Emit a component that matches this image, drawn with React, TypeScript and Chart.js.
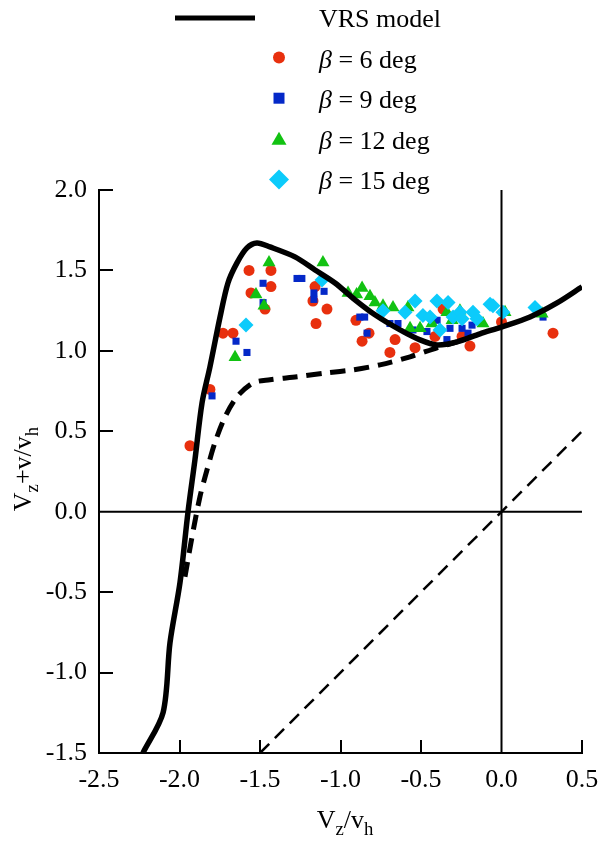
import React, { useEffect, useRef } from "react";
import { Chart, registerables } from "chart.js";

Chart.register(...registerables);

// ---------- data ----------
const xTicks = [-2.5, -2.0, -1.5, -1.0, -0.5, 0.0, 0.5];
const yTicks = [-1.5, -1.0, -0.5, 0.0, 0.5, 1.0, 1.5, 2.0];

const modelLabel = "VRS model";
const betaValues = [6, 9, 12, 15];
const seriesColors = ["#e8300e", "#0428c8", "#12c212", "#0ccbfb"];

// VRS model, solid branch
const vrsSolid: [number, number][] = [
  [-2.227, -1.5], [-2.102, -1.249], [-2.059, -0.814], [-1.997, -0.441],
  [-1.947, 0.0], [-1.904, 0.323], [-1.86, 0.677], [-1.811, 0.9],
  [-1.748, 1.211], [-1.699, 1.422], [-1.643, 1.547], [-1.581, 1.64],
  [-1.519, 1.671], [-1.438, 1.646], [-1.283, 1.584], [-1.158, 1.503],
  [-1.034, 1.422], [-0.91, 1.317], [-0.786, 1.224], [-0.63, 1.13],
  [-0.506, 1.068], [-0.401, 1.037], [-0.276, 1.056], [-0.134, 1.106],
  [0.003, 1.149], [0.177, 1.211], [0.345, 1.298], [0.5, 1.398],
];

// VRS model, dashed branch
const vrsDashed: [number, number][] = [
  [-1.966, -0.404], [-1.922, -0.155], [-1.873, 0.093], [-1.829, 0.261],
  [-1.78, 0.429], [-1.717, 0.59], [-1.643, 0.714], [-1.543, 0.801],
  [-1.438, 0.82], [-1.27, 0.839], [-1.084, 0.863], [-0.922, 0.882],
  [-0.755, 0.913], [-0.568, 0.963], [-0.401, 1.019], [-0.276, 1.056],
];

// thin dashed reference line
const idealLine: [number, number][] = [[-1.5, -1.5], [0.5, 0.5]];

const beta6: [number, number][] = [
  [-1.935, 0.41], [-1.811, 0.76], [-1.73, 1.11], [-1.668, 1.11],
  [-1.568, 1.5], [-1.556, 1.36], [-1.469, 1.26], [-1.432, 1.5],
  [-1.432, 1.4], [-1.158, 1.4], [-1.171, 1.31], [-1.084, 1.26],
  [-1.152, 1.17], [-0.904, 1.19], [-0.823, 1.11], [-0.866, 1.06],
  [-0.693, 0.99], [-0.661, 1.07], [-0.537, 1.02], [-0.413, 1.09],
  [-0.363, 1.26], [-0.245, 1.09], [-0.196, 1.03], [0.0, 1.18], [0.32, 1.11],
];

const beta9: [number, number][] = [
  [-1.798, 0.72], [-1.649, 1.06], [-1.581, 0.99], [-1.481, 1.42],
  [-1.481, 1.3], [-1.27, 1.45], [-1.24, 1.45], [-1.165, 1.36],
  [-1.165, 1.32], [-1.102, 1.37], [-0.88, 1.21], [-0.85, 1.21],
  [-0.835, 1.11], [-0.693, 1.17], [-0.643, 1.17], [-0.55, 1.13],
  [-0.463, 1.12], [-0.4, 1.19], [-0.339, 1.07], [-0.32, 1.14],
  [-0.245, 1.14], [-0.208, 1.11], [-0.183, 1.16], [0.258, 1.21],
];

const beta12: [number, number][] = [
  [-1.655, 0.96], [-1.525, 1.35], [-1.475, 1.28], [-1.444, 1.55],
  [-1.109, 1.55], [-0.953, 1.36], [-0.9, 1.35], [-0.866, 1.39],
  [-0.817, 1.34], [-0.786, 1.3], [-0.736, 1.28], [-0.674, 1.27],
  [-0.581, 1.27], [-0.568, 1.14], [-0.506, 1.14], [-0.432, 1.17],
  [-0.339, 1.24], [-0.307, 1.19], [-0.258, 1.25], [-0.115, 1.17],
  [0.022, 1.24], [0.252, 1.23],
];

const beta15: [number, number][] = [
  [-1.587, 1.16], [-1.115, 1.44], [-0.736, 1.25], [-0.599, 1.24],
  [-0.537, 1.31], [-0.488, 1.22], [-0.444, 1.21], [-0.401, 1.31],
  [-0.382, 1.13], [-0.332, 1.3], [-0.301, 1.21], [-0.258, 1.24],
  [-0.245, 1.2], [-0.177, 1.24], [-0.152, 1.2], [-0.071, 1.29],
  [-0.053, 1.28], [0.009, 1.24], [0.208, 1.27],
];

// ---------- styling ----------
const SERIF = "'Liberation Serif', 'Times New Roman', 'DejaVu Serif', serif";
const toPts = (arr: [number, number][]) => arr.map(([x, y]) => ({ x, y }));

function drawMarker(ctx: CanvasRenderingContext2D, kind: number, cx: number, cy: number) {
  ctx.fillStyle = seriesColors[kind];
  ctx.beginPath();
  if (kind === 0) {
    ctx.arc(cx, cy, 6, 0, Math.PI * 2);
  } else if (kind === 1) {
    ctx.rect(cx - 5.5, cy - 5.5, 11, 11);
  } else if (kind === 2) {
    ctx.moveTo(cx, cy - 7);
    ctx.lineTo(cx + 7.5, cy + 6);
    ctx.lineTo(cx - 7.5, cy + 6);
    ctx.closePath();
  } else {
    ctx.moveTo(cx, cy - 10);
    ctx.lineTo(cx + 10, cy);
    ctx.lineTo(cx, cy + 10);
    ctx.lineTo(cx - 10, cy);
    ctx.closePath();
  }
  ctx.fill();
}

function drawSubText(
  ctx: CanvasRenderingContext2D,
  parts: { t: string; sub?: boolean }[],
  x: number,
  y: number,
  size: number
) {
  let cx = x;
  for (const p of parts) {
    const fs = p.sub ? size * 0.72 : size;
    ctx.font = `${fs}px ${SERIF}`;
    ctx.fillText(p.t, cx, p.sub ? y + size * 0.28 : y);
    cx += ctx.measureText(p.t).width;
  }
}

function measureSubText(ctx: CanvasRenderingContext2D, parts: { t: string; sub?: boolean }[], size: number) {
  let w = 0;
  for (const p of parts) {
    const fs = p.sub ? size * 0.72 : size;
    ctx.font = `${fs}px ${SERIF}`;
    w += ctx.measureText(p.t).width;
  }
  return w;
}

const xTitleParts = [{ t: "V" }, { t: "z", sub: true }, { t: "/v" }, { t: "h", sub: true }];
const yTitleParts = [{ t: "V" }, { t: "z", sub: true }, { t: "+v/v" }, { t: "h", sub: true }];

const decorPlugin = {
  id: "decor",
  afterDatasetsDraw(chart: any) {
    const { ctx, chartArea, scales } = chart;
    const xs = scales.x;
    const ys = scales.y;
    ctx.save();
    ctx.strokeStyle = "#000";
    ctx.lineWidth = 2;
    const x0 = xs.getPixelForValue(0);
    const y0 = ys.getPixelForValue(0);
    ctx.beginPath();
    ctx.moveTo(chartArea.left, y0);
    ctx.lineTo(chartArea.right, y0);
    ctx.moveTo(x0, chartArea.top);
    ctx.lineTo(x0, chartArea.bottom);
    // inward ticks
    for (const v of xTicks) {
      if (v === 0 || v === xTicks[0]) continue;
      const px = Math.round(xs.getPixelForValue(v));
      ctx.moveTo(px, chartArea.bottom);
      ctx.lineTo(px, chartArea.bottom - 13);
    }
    for (const v of yTicks) {
      if (v === 0 || v === yTicks[0]) continue;
      const py = Math.round(ys.getPixelForValue(v));
      ctx.moveTo(chartArea.left, py);
      ctx.lineTo(chartArea.left + 14, py);
    }
    ctx.stroke();
    ctx.restore();
  },
  afterDraw(chart: any) {
    const ctx: CanvasRenderingContext2D = chart.ctx;
    ctx.save();
    ctx.fillStyle = "#000";
    ctx.textBaseline = "alphabetic";
    const size = 26;
    const rowY = (i: number) => 18 + 40.6 * i;
    const textX = 319;

    // legend row 0: model line
    ctx.strokeStyle = "#000";
    ctx.lineWidth = 5;
    ctx.beginPath();
    ctx.moveTo(175, rowY(0));
    ctx.lineTo(255, rowY(0));
    ctx.stroke();
    ctx.font = `${size}px ${SERIF}`;
    ctx.fillText(modelLabel, textX, rowY(0) + 9);

    betaValues.forEach((b, i) => {
      const y = rowY(i + 1);
      drawMarker(ctx, i, 279, y - 1);
      ctx.fillStyle = "#000";
      ctx.font = `italic ${size}px ${SERIF}`;
      ctx.fillText("β", textX, y + 9);
      const bw = ctx.measureText("β").width;
      ctx.font = `${size}px ${SERIF}`;
      ctx.fillText(` = ${b} deg`, textX + bw, y + 9);
    });

    // x title
    ctx.fillStyle = "#000";
    const tsize = 26;
    const xw = measureSubText(ctx, xTitleParts, tsize);
    drawSubText(ctx, xTitleParts, 345 - xw / 2, 828, tsize);

    // y title (rotated)
    const yw = measureSubText(ctx, yTitleParts, tsize);
    ctx.translate(31, 469 + yw / 2);
    ctx.rotate(-Math.PI / 2);
    drawSubText(ctx, yTitleParts, 0, 0, tsize);
    ctx.restore();
  },
};

export default function App() {
  const canvasRef = useRef<HTMLCanvasElement | null>(null);

  useEffect(() => {
    const canvas = canvasRef.current;
    if (!canvas) return;
    const tickFont = { family: SERIF, size: 26 };
    const chart = new Chart(canvas, {
      type: "scatter",
      data: {
        datasets: [
          {
            label: modelLabel,
            data: toPts(vrsSolid),
            showLine: true,
            borderColor: "#000",
            backgroundColor: "#000",
            borderWidth: 5.5,
            pointRadius: 0,
            tension: 0.3,
            order: 0,
          },
          {
            label: "dashed",
            data: toPts(vrsDashed),
            showLine: true,
            borderColor: "#000",
            backgroundColor: "#000",
            borderWidth: 5,
            borderDash: [15, 9],
            pointRadius: 0,
            tension: 0.3,
            order: 0,
          },
          {
            label: "ideal",
            data: toPts(idealLine),
            showLine: true,
            borderColor: "#000",
            backgroundColor: "#000",
            borderWidth: 2.5,
            borderDash: [13, 8],
            pointRadius: 0,
            order: 0,
          },
          {
            label: "beta15",
            data: toPts(beta15),
            pointStyle: "rectRot",
            pointRadius: 7.5,
            pointBackgroundColor: seriesColors[3],
            pointBorderColor: seriesColors[3],
            pointBorderWidth: 0,
            order: 1,
          },
          {
            label: "beta12",
            data: toPts(beta12),
            pointStyle: "triangle",
            pointRadius: 7.5,
            pointBackgroundColor: seriesColors[2],
            pointBorderColor: seriesColors[2],
            pointBorderWidth: 0,
            order: 2,
          },
          {
            label: "beta9",
            data: toPts(beta9),
            pointStyle: "rect",
            pointRadius: 5,
            pointBackgroundColor: seriesColors[1],
            pointBorderColor: seriesColors[1],
            pointBorderWidth: 0,
            order: 3,
          },
          {
            label: "beta6",
            data: toPts(beta6),
            pointStyle: "circle",
            pointRadius: 5.5,
            pointBackgroundColor: seriesColors[0],
            pointBorderColor: seriesColors[0],
            pointBorderWidth: 0,
            order: 4,
          },
        ],
      } as any,
      options: {
        responsive: false,
        animation: false,
        devicePixelRatio: 1,
        layout: { padding: { top: 190, right: 21, left: 0, bottom: 0 } },
        plugins: {
          legend: { display: false },
          tooltip: { enabled: false },
          title: { display: false },
        },
        scales: {
          x: {
            type: "linear",
            min: -2.5,
            max: 0.5,
            afterBuildTicks: (s: any) => {
              s.ticks = xTicks.map((v) => ({ value: v }));
            },
            afterFit: (s: any) => {
              s.height = 90;
              s.paddingLeft = 0;
              s.paddingRight = 0;
            },
            grid: { display: false, drawTicks: false },
            border: { display: true, color: "#000", width: 2 },
            ticks: {
              color: "#000",
              font: tickFont,
              padding: 12,
              maxRotation: 0,
              autoSkip: false,
              callback: (v: any) => Number(v).toFixed(1),
            },
          },
          y: {
            type: "linear",
            min: -1.5,
            max: 2.0,
            afterBuildTicks: (s: any) => {
              s.ticks = yTicks.map((v) => ({ value: v }));
            },
            afterFit: (s: any) => {
              s.width = 99;
              s.paddingTop = 0;
              s.paddingBottom = 0;
            },
            grid: { display: false, drawTicks: false },
            border: { display: true, color: "#000", width: 2 },
            ticks: {
              color: "#000",
              font: tickFont,
              padding: 12,
              autoSkip: false,
              callback: (v: any) => Number(v).toFixed(1),
            },
          },
        },
      } as any,
      plugins: [decorPlugin],
    });
    return () => chart.destroy();
  }, []);

  return (
    <div style={{ position: "fixed", left: 0, top: 0, width: 603, height: 843, background: "#fff" }}>
      <canvas ref={canvasRef} width={603} height={843} style={{ display: "block" }} />
    </div>
  );
}
